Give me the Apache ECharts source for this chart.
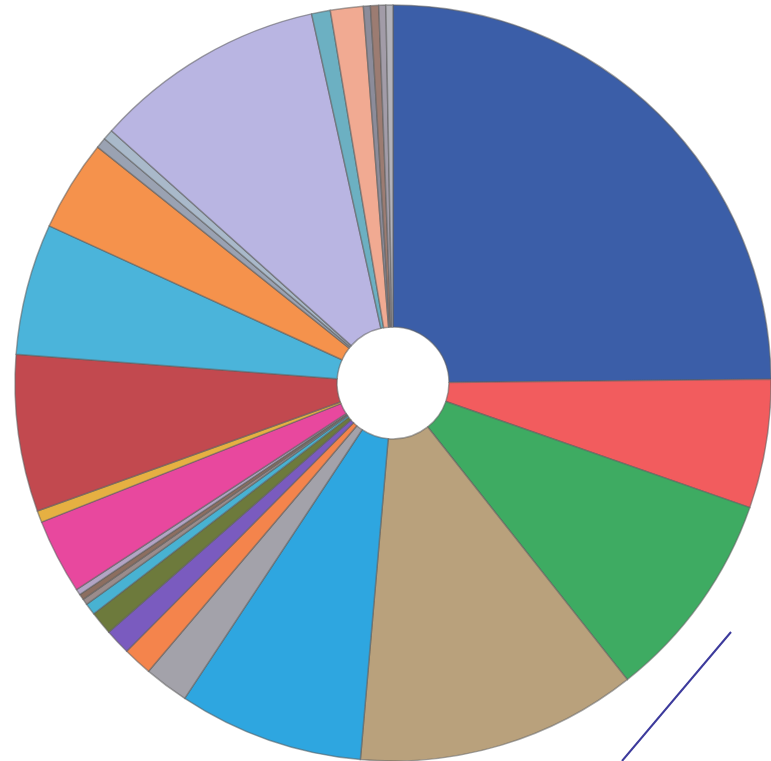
<!DOCTYPE html>
<html>
<head>
<meta charset="utf-8">
<script src="https://cdn.jsdelivr.net/npm/echarts@6/dist/echarts.min.js"></script>
<style>
html,body{margin:0;padding:0;background:#fff;}
#chart{width:771px;height:761px;}
</style>
</head>
<body>
<div id="chart"></div>
<script>
// Slice categories (no labels visible in the reference)
const categories = ['S1','S2','S3','S4','S5','S6','S7','S8','S9','S10','S11','S12','S13','S14','S15','S16','S17','S18','S19','S20','S21','S22','S23','S24','S25','S26','S27'];
// Share of each slice, in percent, clockwise from 12 o'clock
const values = [24.8, 5.5, 9.0, 12.0, 7.9, 1.9, 1.25, 1.1, 1.0, 0.5, 0.25, 0.25, 0.25, 3.2, 0.5, 6.7, 5.6, 3.9, 0.45, 0.45, 9.9, 0.8, 1.4, 0.3, 0.35, 0.3, 0.3];
const colors = ['#3b5ea8','#f25c5e','#3eab62','#b9a17c','#2ea6e0','#a3a2aa','#f4844c','#7a5bbf','#6d7a3c','#48b2d2','#9a8c8c','#8c6e60','#b2a4c4','#e8489e','#e6b042','#c2494f','#4bb4da','#f5924c','#9aa2b2','#a9b9ca','#b9b5e2','#6cb0c2','#f1aa92','#8c8c9a','#9c7c72','#a29ca8','#b2b2ba'];

const data = categories.map((c, i) => ({ name: c, value: values[i], itemStyle: { color: colors[i] } }));

const chart = echarts.init(document.getElementById('chart'));
chart.setOption({
  animation: false,
  backgroundColor: '#ffffff',
  series: [{
    type: 'pie',
    center: [393, 383],
    radius: [56, 378],
    startAngle: 90,
    clockwise: true,
    label: { show: false },
    labelLine: { show: false },
    itemStyle: { borderColor: 'rgba(95,95,95,0.55)', borderWidth: 1.5 },
    emphasis: { disabled: true },
    data: data
  }],
  graphic: [{
    type: 'line',
    shape: { x1: 731, y1: 632, x2: 622, y2: 761 },
    style: { stroke: '#3c3a9c', lineWidth: 2 }
  }]
});
</script>
</body>
</html>
